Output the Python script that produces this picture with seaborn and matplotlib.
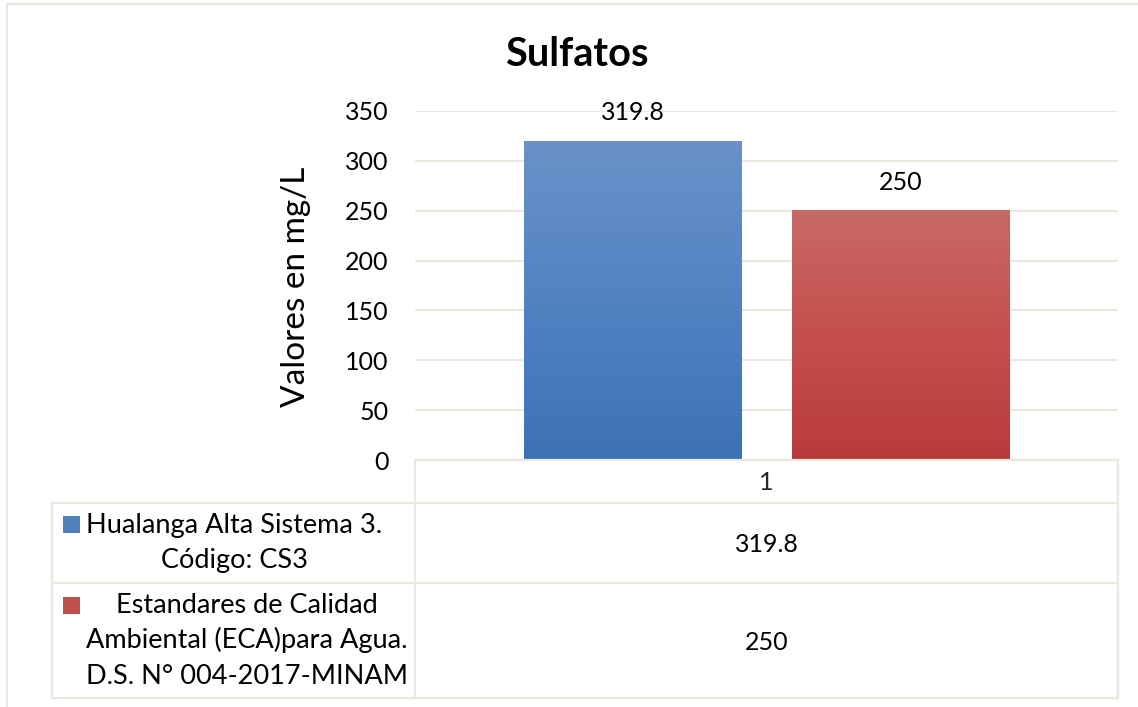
import numpy as np
import pandas as pd
import matplotlib
matplotlib.use("Agg")
import matplotlib.pyplot as plt
import seaborn as sns
from matplotlib.colors import LinearSegmentedColormap
from matplotlib.patches import Rectangle
from matplotlib.lines import Line2D

# ---------------- data ----------------
title = "Sulfatos"
ylabel = "Valores en mg/L"
categories = ["1"]
series = ["Hualanga Alta Sistema 3.\nCódigo: CS3",
          "Estandares de Calidad\nAmbiental (ECA)para Agua.\nD.S. N° 004-2017-MINAM"]
values = [319.8, 250]
value_labels = ["319.8", "250"]
yticks = [0, 50, 100, 150, 200, 250, 300, 350]

# ---------------- style ----------------
sns.set_theme(style="white")
plt.rcParams["font.family"] = ["Lato", "DejaVu Sans"]

W, H = 1138, 707
fig = plt.figure(figsize=(W / 100, H / 100), dpi=100)
fx = lambda px: px / W
fy = lambda py: 1 - py / H

grid_c = "#ebe9df"
gradients = [["#6a91c8", "#5183c3", "#3b72b3"],
             ["#c86a67", "#c64f4d", "#b83b39"]]
marker_c = ["#4f81bd", "#c0504d"]

ax = fig.add_axes([fx(415), fy(460), fx(1118) - fx(415), fy(111) - fy(460)])

df = pd.DataFrame({"cat": categories * len(series), "serie": series, "valor": values})
sns.barplot(data=df, x="cat", y="valor", hue="serie", hue_order=series,
            palette=marker_c, width=0.7625, gap=0.189, ax=ax, legend=False,
            zorder=2)

# gradient fill
for p, cols in zip(list(ax.patches), gradients):
    x0, y0 = p.get_x(), p.get_y()
    w, h = p.get_width(), p.get_height()
    cmap = LinearSegmentedColormap.from_list("g", cols[::-1])
    grad = np.linspace(1, 0, 256).reshape(-1, 1)
    ax.imshow(grad, cmap=cmap, extent=[x0, x0 + w, y0, y0 + h],
              aspect="auto", zorder=2, interpolation="bicubic")
    p.set_facecolor("none")
    p.set_edgecolor("none")
ax.set_ylim(0, 350)
ax.set_xlim(-0.5, 0.5)

for cont, lab in zip(ax.containers, value_labels):
    ax.bar_label(cont, labels=[lab], padding=12, fontsize=18, color="#000000")

for s in ax.spines.values():
    s.set_visible(False)
ax.set_yticks(yticks)
ax.set_yticklabels([str(t) for t in yticks], fontsize=18, color="#000000")
ax.tick_params(axis="y", length=0, pad=19)
ax.set_xticks([])
ax.set_xlabel("")
ax.set_ylabel("")
ax.yaxis.grid(True, color=grid_c, lw=1.5, zorder=0)
ax.set_axisbelow(True)

# title & y label
fig.text(fx(577), fy(66), title, fontsize=28.5, fontweight="bold",
         ha="center", va="baseline", color="#000000")
fig.text(fx(296), fy(287), ylabel, fontsize=24, rotation=90,
         ha="center", va="center", color="#000000")

# ---------------- data table ----------------
def hline(y, x0, x1):
    fig.add_artist(Line2D([fx(x0), fx(x1)], [fy(y), fy(y)], color=grid_c, lw=1.6))

def vline(x, y0, y1):
    fig.add_artist(Line2D([fx(x), fx(x)], [fy(y0), fy(y1)], color=grid_c, lw=1.6))

TL = 52
hline(460, 415, 1118)
hline(503, TL, 1118)
hline(583, TL, 1118)
hline(698, TL, 1118)
vline(TL, 503, 698)
vline(415, 460, 698)
vline(1118, 460, 698)

# outer frame
hline(4, 7, 1138)
vline(7, 4, 707)

fig.text(fx(766), fy(490), categories[0], fontsize=18, ha="center", va="baseline")

value_baselines = [552, 650]
label_centers = [234.5, 247]
line_baselines = [[533, 568], [613, 648, 684]]
marker_top = [516, 597]
for i, (name, vl) in enumerate(zip(series, value_labels)):
    fig.text(fx(767), fy(value_baselines[i]), vl, fontsize=18,
             ha="center", va="baseline", color="#000000")
    for line, yb in zip(name.split("\n"), line_baselines[i]):
        fig.text(fx(label_centers[i]), fy(yb), line, fontsize=19.5,
                 ha="center", va="baseline", color="#000000")
    fig.add_artist(Rectangle((fx(63), fy(marker_top[i] + 17)), fx(17), 17 / H,
                             facecolor=marker_c[i], edgecolor="none"))

fig.savefig("out.png", dpi=100)
